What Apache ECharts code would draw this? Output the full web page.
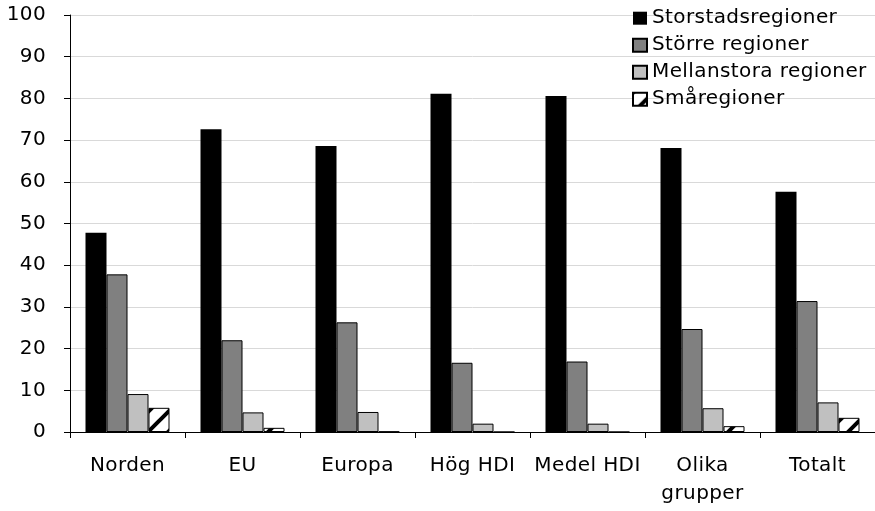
<!DOCTYPE html>
<html>
<head>
<meta charset="utf-8">
<script src="https://cdn.jsdelivr.net/npm/echarts@6/dist/echarts.min.js"></script>
<style>html,body{margin:0;padding:0;background:#fff}#c{width:875px;height:511px}</style>
</head>
<body>
<div id="c"></div>
<script>
const categories = ['Norden', 'EU', 'Europa', 'Hög HDI', 'Medel HDI', 'Olika\ngrupper', 'Totalt'];
const seriesNames = ['Storstadsregioner', 'Större regioner', 'Mellanstora regioner', 'Småregioner'];
const storstad = [47.8, 72.6, 68.6, 81.1, 80.6, 68.1, 57.6];
const storre = [37.8, 22.0, 26.3, 16.6, 16.9, 24.7, 31.4];
const mellan = [9.1, 4.7, 4.8, 2.0, 2.0, 5.7, 7.1];
const sma = [5.8, 1.0, 0.1, 0, 0, 1.4, 3.4];
const yTicks = [0, 10, 20, 30, 40, 50, 60, 70, 80, 90, 100];

const FONT = 'DejaVu Sans';

// Slight extra letter spacing, as in the reference's text rendering
(function () {
  try {
    const proto = CanvasRenderingContext2D.prototype;
    const d = Object.getOwnPropertyDescriptor(proto, 'font');
    if (d && 'letterSpacing' in proto) {
      Object.defineProperty(proto, 'font', {
        configurable: true,
        get() { return d.get.call(this); },
        set(v) { d.set.call(this, v); this.letterSpacing = '0.4px'; }
      });
    }
  } catch (e) {}
})();

function hatch() {
  const s = 20;
  const cv = document.createElement('canvas');
  cv.width = s; cv.height = s;
  const ctx = cv.getContext('2d');
  ctx.fillStyle = '#fff';
  ctx.fillRect(0, 0, s, s);
  ctx.strokeStyle = '#000';
  ctx.lineWidth = 4;
  ctx.beginPath();
  ctx.moveTo(-2, s + 2); ctx.lineTo(s + 2, -2);
  ctx.moveTo(-2, 2); ctx.lineTo(2, -2);
  ctx.moveTo(s - 2, s + 2); ctx.lineTo(s + 2, s - 2);
  ctx.stroke();
  return cv;
}

const chart = echarts.init(document.getElementById('c'), null, {renderer: 'canvas'});

const colors = ['#000000', '#808080', '#c0c0c0', {image: hatch(), repeat: 'repeat'}];
const datas = [storstad, storre, mellan, sma];

chart.setOption({
  animation: false,
  textStyle: {fontFamily: FONT},
  grid: {left: 70, top: 15, width: 806, bottom: 79, containLabel: false},
  legend: {
    orient: 'vertical', left: 632, top: 8, padding: 0, itemWidth: 14, itemHeight: 13, itemGap: 6.6,
    icon: 'rect', selectedMode: false,
    textStyle: {fontFamily: FONT, fontSize: 20, color: '#000'},
    data: seriesNames
  },
  xAxis: {
    type: 'category', data: categories,
    axisLine: {lineStyle: {color: '#000', width: 1}},
    axisTick: {show: true, length: 6, lineStyle: {color: '#000'}},
    axisLabel: {color: '#000', fontSize: 20, fontFamily: FONT, margin: 20, lineHeight: 28, interval: 0}
  },
  yAxis: {
    type: 'value', min: yTicks[0], max: yTicks[yTicks.length - 1], interval: 10,
    axisLine: {show: true, lineStyle: {color: '#000', width: 1}},
    axisTick: {show: true, length: 6, lineStyle: {color: '#000'}},
    splitLine: {lineStyle: {color: '#d9d9d9', width: 1}},
    axisLabel: {color: '#000', fontSize: 20, fontFamily: FONT, margin: 24}
  },
  series: seriesNames.map((n, i) => ({
    name: n, type: 'bar', data: datas[i], barWidth: 21, barGap: '0%',
    itemStyle: {color: colors[i], borderColor: '#000', borderWidth: i === 0 ? 0 : 1}
  }))
});
</script>
</body>
</html>
